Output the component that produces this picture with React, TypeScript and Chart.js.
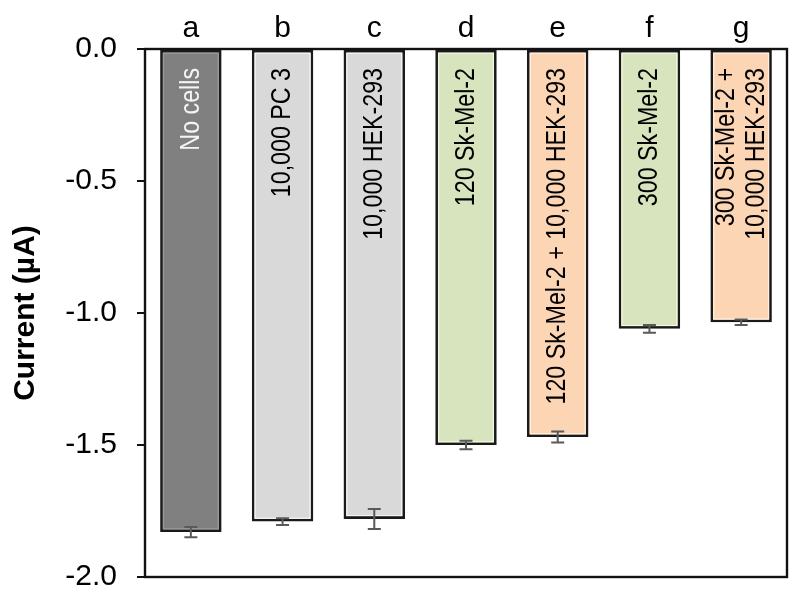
import React, { useEffect, useRef } from "react";
import { Chart, registerables } from "chart.js";

Chart.register(...registerables);

const categories = ["a", "b", "c", "d", "e", "f", "g"];
const currents = [-1.83, -1.79, -1.78, -1.5, -1.47, -1.06, -1.035];
const errors = [0.019, 0.013, 0.038, 0.016, 0.021, 0.015, 0.01];
const barLabels: string[][] = [
  ["No cells"],
  ["10,000 PC 3"],
  ["10,000 HEK-293"],
  ["120 Sk-Mel-2"],
  ["120 Sk-Mel-2 + 10,000 HEK-293"],
  ["300 Sk-Mel-2"],
  ["300 Sk-Mel-2 +", "10,000 HEK-293"],
];
const fillColors = ["#808080", "#d9d9d9", "#d9d9d9", "#d7e4bd", "#fcd5b5", "#d7e4bd", "#fcd5b5"];
const innerColors = ["#9a9a9a", "#f4f4f4", "#f4f4f4", "#f2f8e2", "#fff0e2", "#f2f8e2", "#fff0e2"];
const labelColors = ["#f4f4f4", "#000", "#000", "#000", "#000", "#000", "#000"];
const yTicks = [0, -0.5, -1, -1.5, -2];

const FONT = "'Liberation Sans', Arial, sans-serif";

const decorPlugin = {
  id: "decor",
  afterDatasetsDraw(chart: any) {
    const { ctx, chartArea } = chart;
    const meta = chart.getDatasetMeta(0);
    const yScale = chart.scales.y;
    meta.data.forEach((bar: any, i: number) => {
      const { x, y, base, width } = bar.getProps(["x", "y", "base", "width"], true);
      const left = x - width / 2;
      const top = Math.min(y, base);
      const h = Math.abs(y - base);
      ctx.save();
      ctx.strokeStyle = innerColors[i];
      ctx.lineWidth = 1.2;
      ctx.strokeRect(left + 3.3, top + 3.3, width - 6.6, h - 6.6);
      ctx.restore();
      ctx.save();
      ctx.fillStyle = labelColors[i];
      ctx.font = `28px ${FONT}`;
      ctx.translate(x, top + 18);
      ctx.rotate(-Math.PI / 2);
      ctx.scale(0.83, 1);
      ctx.textAlign = "right";
      ctx.textBaseline = "middle";
      const lines = barLabels[i];
      const lh = 30;
      lines.forEach((ln, k) => {
        const off = (k - (lines.length - 1) / 2) * lh;
        ctx.fillText(ln, 0, off);
      });
      ctx.restore();
      const v = currents[i];
      const e = errors[i];
      const y1 = yScale.getPixelForValue(v + e);
      const y2 = yScale.getPixelForValue(v - e);
      ctx.save();
      ctx.strokeStyle = "#5a5a5a";
      ctx.lineWidth = 2;
      ctx.beginPath();
      ctx.moveTo(x, y1);
      ctx.lineTo(x, y2);
      ctx.moveTo(x - 6.5, y1);
      ctx.lineTo(x + 6.5, y1);
      ctx.moveTo(x - 6.5, y2);
      ctx.lineTo(x + 6.5, y2);
      ctx.stroke();
      ctx.restore();
    });
    ctx.save();
    ctx.strokeStyle = "#111";
    ctx.lineWidth = 2.4;
    ctx.strokeRect(chartArea.left, chartArea.top, chartArea.right - chartArea.left, chartArea.bottom - chartArea.top);
    ctx.restore();
  },
};

export default function App() {
  const ref = useRef<HTMLCanvasElement | null>(null);
  useEffect(() => {
    if (!ref.current) return;
    const chart = new Chart(ref.current, {
      type: "bar",
      data: {
        labels: categories,
        datasets: [
          {
            data: currents,
            backgroundColor: fillColors,
            borderColor: "#1a1a1a",
            borderWidth: 2.8,
            borderSkipped: false,
            barPercentage: 0.67,
            categoryPercentage: 1,
          },
        ],
      },
      options: {
        responsive: false,
        animation: false,
        layout: { padding: { left: 0, top: 0, right: 13, bottom: 22 } },
        plugins: { legend: { display: false }, tooltip: { enabled: false } },
        scales: {
          x: {
            position: "top",
            grid: { display: false, drawTicks: false },
            border: { display: false },
            ticks: { color: "#000", font: { family: FONT, size: 30 }, padding: 2, maxRotation: 0 },
            afterFit: (s: any) => {
              s.height = 49;
              s.paddingLeft = 0;
              s.paddingRight = 0;
            },
          },
          y: {
            min: -2,
            max: 0,
            afterBuildTicks: (s: any) => {
              s.ticks = yTicks.map((v) => ({ value: v }));
            },
            grid: { drawOnChartArea: false, drawTicks: true, tickLength: 8, color: "#111", lineWidth: 2 },
            border: { display: false },
            ticks: {
              color: "#000",
              font: { family: FONT, size: 30 },
              padding: 20,
              callback: (v: any) => Number(v).toFixed(1),
            },
            title: {
              display: true,
              text: "Current (µA)",
              color: "#000",
              font: { family: FONT, size: 30, weight: "bold" },
              padding: { top: 8, bottom: 0 },
            },
            afterFit: (s: any) => {
              s.width = 145;
              s.paddingTop = 0;
              s.paddingBottom = 0;
            },
          },
        },
      },
      plugins: [decorPlugin],
    });
    return () => chart.destroy();
  }, []);
  return (
    <div style={{ position: "fixed", left: 0, top: 0, width: 800, height: 599, background: "#fff" }}>
      <canvas ref={ref} width={800} height={599} style={{ display: "block" }} />
    </div>
  );
}
